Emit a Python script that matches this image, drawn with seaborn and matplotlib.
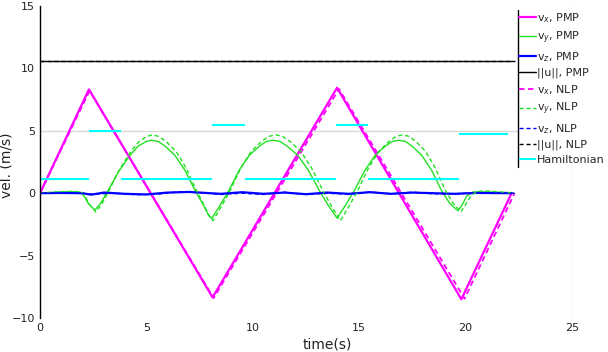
import matplotlib
matplotlib.use("Agg")
import matplotlib.pyplot as plt
import seaborn as sns
from matplotlib.lines import Line2D
from matplotlib.patches import Rectangle

# ---------------- data ----------------
vx_pmp_t = [0, 2.30, 8.11, 13.96, 19.80, 22.16]
vx_pmp_v = [0, 8.32, -8.35, 8.45, -8.50, 0]
vx_nlp_t = [0, 2.33, 8.16, 14.05, 19.95, 22.30]
vx_nlp_v = [0, 8.20, -8.40, 8.35, -8.45, 0]

vy_pmp_t = [0, 0.5, 1.0, 1.5, 1.9, 2.1, 2.27, 2.58, 2.85, 3.13, 3.68, 4.23, 4.62, 5.0,
            5.25, 5.55, 5.87, 6.34, 6.81, 7.28, 7.68, 7.9, 8.07, 8.47, 8.88, 9.36, 9.84,
            10.32, 10.64, 10.95, 11.27, 11.61, 12.11, 12.61, 13.12, 13.54, 13.96, 14.36,
            14.78, 15.27, 15.75, 16.23, 16.56, 16.87, 17.17, 17.48, 17.94, 18.40, 18.86,
            19.25, 19.64, 19.85, 20.05, 20.35, 21.0, 22.16]
vy_pmp_v = [0, 0.05, 0.10, 0.12, 0.08, -0.30, -0.83, -1.36, -0.80, 0.0, 1.70, 3.04, 3.78, 4.15,
            4.24, 4.15, 3.78, 3.04, 1.84, 0.24, -0.96, -1.70, -2.03, -0.96, 0.24, 1.84, 3.04,
            3.78, 4.15, 4.24, 4.15, 3.78, 3.04, 1.84, 0.24, -0.96, -2.00, -0.96,
            0.24, 1.84, 3.04, 3.78, 4.15, 4.24, 4.15, 3.78, 3.04, 1.84, 0.24,
            -0.80, -1.41, -0.90, -0.24, 0.10, 0.10, 0.05]

vy_nlp_t = [0, 0.5, 1.0, 1.5, 1.95, 2.15, 2.32, 2.62, 2.9, 3.18, 3.72, 4.27, 4.66, 5.02,
            5.28, 5.58, 5.92, 6.4, 6.87, 7.34, 7.74, 7.96, 8.13, 8.53, 8.95, 9.43, 9.92,
            10.41, 10.75, 11.07, 11.4, 11.75, 12.26, 12.77, 13.28, 13.7, 14.12, 14.52,
            14.94, 15.43, 15.92, 16.4, 16.73, 17.04, 17.35, 17.66, 18.12, 18.58, 19.04,
            19.43, 19.78, 20.0, 20.3, 20.6, 21.0, 21.6, 22.3]
vy_nlp_v = [0, 0.08, 0.12, 0.15, 0.10, -0.35, -0.90, -1.50, -0.90, 0.0, 1.85, 3.35, 4.15, 4.55,
            4.68, 4.55, 4.15, 3.35, 2.00, 0.25, -1.05, -1.85, -2.20, -1.05, 0.25, 2.00, 3.35,
            4.15, 4.55, 4.68, 4.55, 4.15, 3.35, 2.00, 0.25, -1.05, -2.20, -1.05,
            0.25, 2.00, 3.35, 4.15, 4.55, 4.68, 4.55, 4.15, 3.35, 2.00, 0.25,
            -0.85, -1.50, -0.90, -0.10, 0.15, 0.18, 0.10, 0.0]

vz_pmp_t = [0, 1, 2, 2.4, 3, 4, 5, 6, 7, 8, 8.5, 9.5, 10.5, 11.5, 12.5, 13.5, 14.5,
            15.5, 16.5, 17.5, 18.5, 19.5, 20.5, 22.16]
vz_pmp_v = [0, 0.02, 0.0, -0.12, 0.05, -0.05, -0.10, 0.05, 0.10, 0.0, -0.05, 0.08, -0.05,
            0.05, -0.08, 0.05, -0.05, 0.08, -0.05, 0.05, 0.0, -0.05, 0.02, 0.0]
vz_nlp_t = [0, 1.5, 2.5, 3.5, 4.5, 5.5, 6.5, 7.5, 8.5, 9.5, 10.5, 11.5, 12.5, 13.5,
            14.5, 15.5, 16.5, 17.5, 18.5, 19.5, 20.5, 22.3]
vz_nlp_v = [0, 0.03, -0.08, 0.0, -0.12, -0.08, 0.10, 0.05, -0.10, 0.0, -0.10, 0.08,
            -0.10, 0.0, -0.08, 0.10, -0.05, 0.08, -0.05, -0.05, 0.05, 0.0]

u_pmp_t = [0, 22.16]
u_pmp_v = [10.56, 10.56]
u_nlp_t = [0, 22.30]
u_nlp_v = [10.56, 10.56]

ham_start = [0, 2.30, 3.79, 8.10, 9.63, 13.90, 15.40, 19.70]
ham_end = [2.30, 3.79, 8.10, 9.63, 13.90, 15.40, 19.70, 22.00]
ham_level = [1.12, 5.00, 1.12, 5.44, 1.12, 5.44, 1.12, 4.77]

labels = ["v$_{x}$, PMP", "v$_{y}$, PMP", "v$_{z}$, PMP", "||u||, PMP",
          "v$_{x}$, NLP", "v$_{y}$, NLP", "v$_{z}$, NLP", "||u||, NLP", "Hamiltonian"]
x_ticks = [0, 5, 10, 15, 20, 25]
y_ticks = [-10, -5, 0, 5, 10, 15]

# ---------------- drawing ----------------
sns.set_style("white")
plt.rcParams["font.family"] = ["DejaVu Sans"]

W, H = 608, 352
fig = plt.figure(figsize=(W / 100, H / 100), dpi=100)
ax = fig.add_axes([40 / W, 34 / H, 532 / W, 312 / H])

MAG, GRN, BLU, CYA = "#ff00ff", "#22e022", "#0000ff", "#00ffff"
DASH = (0, (3, 2))

ax.axhline(5, color="#d8d8d8", lw=1, zorder=0)
ax.axvline(25, color="#d8d8d8", lw=1, zorder=0)

kw = dict(ax=ax, estimator=None, sort=False)
sns.lineplot(x=vx_pmp_t, y=vx_pmp_v, color=MAG, lw=1.6, label=labels[0], **kw)
sns.lineplot(x=vy_pmp_t, y=vy_pmp_v, color=GRN, lw=1.0, label=labels[1], **kw)
sns.lineplot(x=vz_pmp_t, y=vz_pmp_v, color=BLU, lw=1.6, label=labels[2], **kw)
sns.lineplot(x=u_pmp_t, y=u_pmp_v, color="black", lw=1.0, label=labels[3], **kw)
sns.lineplot(x=vx_nlp_t, y=vx_nlp_v, color=MAG, lw=1.3, linestyle=DASH, label=labels[4], **kw)
sns.lineplot(x=vy_nlp_t, y=vy_nlp_v, color=GRN, lw=1.0, linestyle=DASH, label=labels[5], **kw)
sns.lineplot(x=vz_nlp_t, y=vz_nlp_v, color=BLU, lw=1.0, linestyle=DASH, label=labels[6], **kw)
sns.lineplot(x=u_nlp_t, y=u_nlp_v, color="black", lw=1.0, linestyle=DASH, label=labels[7], **kw)
ax.hlines(ham_level, ham_start, ham_end, colors=CYA, lw=1.5, label=labels[8])

ax.set_xlim(0, 25)
ax.set_ylim(-10, 15)
ax.set_xticks(x_ticks)
ax.set_yticks(y_ticks)
ax.tick_params(axis="both", length=0, labelsize=8, labelcolor="#222222")
ax.tick_params(axis="x", pad=3.5)
ax.tick_params(axis="y", pad=3.5)
for s in ["top", "right", "bottom"]:
    ax.spines[s].set_visible(False)
ax.spines["left"].set_color("black")
ax.spines["left"].set_linewidth(1.0)
ax.set_xlabel("time(s)", fontsize=10, color="#222222")
ax.set_ylabel("vel. (m/s)", fontsize=10, color="#222222")
ax.xaxis.set_label_coords(13.5 / 25, -19 / 312)
ax.yaxis.set_label_coords(-26 / 532, 0.49)

handles, labs = ax.get_legend_handles_labels()
ax.get_legend().remove()
order = [labs.index(l) for l in labels]

# white box behind legend with a black left edge
fig.add_artist(Rectangle((518 / W, (H - 167) / H), (W - 518) / W, 157 / H,
                         transform=fig.transFigure, facecolor="white",
                         edgecolor="none", zorder=5))
fig.add_artist(Line2D([518 / W, 518 / W], [(H - 167) / H, (H - 10) / H],
                      transform=fig.transFigure, color="black", lw=1.0, zorder=6))
leg = fig.legend([handles[i] for i in order], [labs[i] for i in order],
                 loc="upper left", bbox_to_anchor=(519 / W, (H - 11) / H),
                 frameon=False, fontsize=8, handlelength=1.5, handletextpad=0.15,
                 labelspacing=0.39, borderpad=0.0, borderaxespad=0.0)
leg.set_zorder(7)

fig.savefig("out.png", dpi=100)
